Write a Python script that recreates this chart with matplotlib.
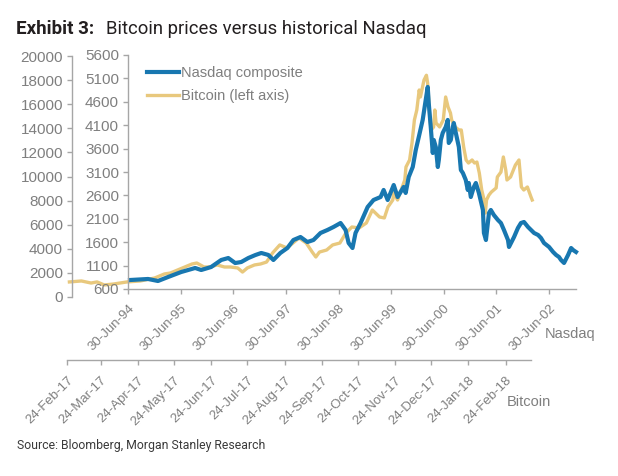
import matplotlib
matplotlib.use('Agg')
import matplotlib.pyplot as plt
import matplotlib.dates as mdates
import pandas as pd

# Nasdaq composite
nasdaq_dates = ['1994-07-14', '1994-11-16', '1995-01-24', '1995-04-04', '1995-07-04',
                '1995-10-09', '1995-11-20', '1996-01-28', '1996-04-07', '1996-05-26',
                '1996-07-13', '1996-08-24', '1996-10-12', '1996-11-30', '1997-01-10',
                '1997-02-28', '1997-04-04', '1997-05-22', '1997-07-10', '1997-08-21',
                '1997-10-09', '1997-11-26', '1998-01-07', '1998-02-25', '1998-04-14',
                '1998-05-26', '1998-07-14', '1998-08-18', '1998-09-08', '1998-10-05',
                '1998-10-26', '1998-11-30', '1999-01-18', '1999-02-28', '1999-04-18',
                '1999-05-09', '1999-06-06', '1999-07-18', '1999-08-14', '1999-09-25',
                '1999-10-09', '1999-10-30', '1999-11-27', '1999-12-18', '2000-01-08',
                '2000-02-04', '2000-02-25', '2000-03-10', '2000-03-17', '2000-03-31',
                '2000-04-14', '2000-04-21', '2000-05-05', '2000-05-19', '2000-05-26',
                '2000-06-09', '2000-06-22', '2000-07-13', '2000-07-27', '2000-08-03',
                '2000-08-17', '2000-08-31', '2000-09-07', '2000-09-21', '2000-10-12',
                '2000-10-26', '2000-11-09', '2000-11-29', '2000-12-13', '2000-12-20',
                '2001-01-03', '2001-01-24', '2001-02-07', '2001-02-28', '2001-03-28',
                '2001-04-04', '2001-04-18', '2001-05-09', '2001-05-22', '2001-06-12',
                '2001-07-10', '2001-07-31', '2001-08-21', '2001-09-18', '2001-09-25',
                '2001-10-09', '2001-10-30', '2001-11-26', '2001-12-17', '2002-01-07',
                '2002-02-04', '2002-02-25', '2002-03-18', '2002-04-15', '2002-05-05',
                '2002-05-26', '2002-06-30', '2002-07-28', '2002-08-18', '2002-09-07',
                '2002-09-21', '2002-10-12', '2002-11-09', '2002-11-30', '2002-12-14',
                '2003-01-03']
nasdaq_values = [792, 814, 771, 856, 963, 1049, 1006, 1070, 1220, 1262,
                 1155, 1177, 1262, 1326, 1370, 1327, 1220, 1369, 1476, 1647,
                 1711, 1604, 1647, 1797, 1861, 1925, 2010, 1861, 1583, 1476,
                 1797, 2010, 2352, 2502, 2566, 2716, 2502, 2822, 2566, 2780,
                 2652, 2993, 3207, 3570, 3848, 4212, 4639, 4917, 4575, 4062,
                 3506, 3784, 3635, 3207, 3357, 3784, 3934, 4062, 4212, 3720,
                 3784, 4062, 4147, 3934, 3635, 3143, 3079, 2929, 2716, 2865,
                 2566, 2780, 2865, 2652, 2288, 1797, 1647, 2224, 2288, 2181,
                 2075, 2010, 1861, 1647, 1498, 1583, 1711, 1904, 2010, 2032,
                 1925, 1861, 1797, 1754, 1690, 1583, 1498, 1391, 1327, 1284,
                 1220, 1156, 1327, 1476, 1433, 1391]

# Bitcoin (left axis)
btc_dates = ['2017-02-26', '2017-03-08', '2017-03-16', '2017-03-21', '2017-03-27',
             '2017-04-04', '2017-04-09', '2017-04-15', '2017-04-26', '2017-05-08',
             '2017-05-16', '2017-05-21', '2017-05-27', '2017-06-02', '2017-06-08',
             '2017-06-12', '2017-06-18', '2017-06-23', '2017-06-29', '2017-07-05',
             '2017-07-10', '2017-07-16', '2017-07-20', '2017-07-24', '2017-07-30',
             '2017-08-04', '2017-08-09', '2017-08-14', '2017-08-20', '2017-08-26',
             '2017-08-31', '2017-09-05', '2017-09-11', '2017-09-16', '2017-09-19',
             '2017-09-22', '2017-09-28', '2017-10-03', '2017-10-09', '2017-10-14',
             '2017-10-19', '2017-10-25', '2017-10-31', '2017-11-05', '2017-11-11',
             '2017-11-15', '2017-11-18', '2017-11-22', '2017-11-23', '2017-11-26',
             '2017-11-28', '2017-11-29', '2017-12-02', '2017-12-03', '2017-12-06',
             '2017-12-08', '2017-12-10', '2017-12-12', '2017-12-13', '2017-12-14',
             '2017-12-15', '2017-12-18', '2017-12-20', '2017-12-21', '2017-12-23',
             '2017-12-24', '2017-12-26', '2017-12-27', '2017-12-28', '2017-12-31',
             '2018-01-03', '2018-01-05', '2018-01-07', '2018-01-09', '2018-01-10',
             '2018-01-13', '2018-01-16', '2018-01-18', '2018-01-20', '2018-01-22',
             '2018-01-24', '2018-01-27', '2018-01-29', '2018-01-31', '2018-02-02',
             '2018-02-04', '2018-02-06', '2018-02-07', '2018-02-08', '2018-02-10',
             '2018-02-12', '2018-02-16', '2018-02-17', '2018-02-20', '2018-02-22',
             '2018-02-24', '2018-02-25', '2018-02-28', '2018-03-04', '2018-03-07',
             '2018-03-09', '2018-03-11', '2018-03-14', '2018-03-17', '2018-03-18']
btc_values = [1250, 1330, 1160, 1250, 1000, 1080, 1160, 1250, 1330, 1580,
              1910, 1990, 2240, 2490, 2740, 2820, 2490, 2490, 2660, 2490,
              2490, 2410, 2070, 2410, 2660, 2740, 2900, 3650, 4320, 4070,
              4480, 4900, 4480, 3730, 3320, 3730, 3900, 4320, 4480, 5310,
              5810, 5730, 6140, 7220, 6640, 6560, 7470, 8050, 8630, 8050,
              8630, 8880, 9710, 10790, 11370, 12780, 14690, 15520, 16350, 17180,
              16600, 18010, 18400, 17760, 14690, 13860, 14110, 15520, 14440, 14110,
              14690, 16600, 15770, 15270, 14690, 14110, 13860, 13860, 12450, 11370,
              11120, 11370, 11120, 11200, 10290, 8880, 8050, 6970, 8050, 8460,
              8710, 9050, 9960, 10370, 11620, 10540, 9710, 9960, 10950, 11370,
              9130, 8880, 9130, 8300, 8050]

nasdaq_ticks = ['1994-06-30', '1995-06-30', '1996-06-30', '1997-06-30', '1998-06-30',
                '1999-06-30', '2000-06-30', '2001-06-30', '2002-06-30']
btc_ticks = ['2017-02-24', '2017-03-24', '2017-04-24', '2017-05-24', '2017-06-24',
             '2017-07-24', '2017-08-24', '2017-09-24', '2017-10-24', '2017-11-24',
             '2017-12-24', '2018-01-24', '2018-02-24']

BLUE = '#1877B0'
GOLD = '#E8C87D'
SPINE = '#A6A6A6'
TXT = '#7F7F7F'
SANS = 'Liberation Sans'

W, H = 618, 476
fig = plt.figure(figsize=(W / 100, H / 100), dpi=100)


def box(x0, y0, x1, y1):
    # pixel box (top-left origin) -> figure fraction
    return [x0 / W, 1 - y1 / H, (x1 - x0) / W, (y1 - y0) / H]


def style_axis(ax):
    for s in ['top', 'right']:
        ax.spines[s].set_visible(False)
    for s in ['left', 'bottom']:
        ax.spines[s].set_color(SPINE)
        ax.spines[s].set_linewidth(1.0)
    ax.tick_params(colors=SPINE, labelcolor=TXT, direction='out', length=3.5, width=1.0)


def rotate_dates(ax):
    for lab in ax.get_xticklabels():
        lab.set_rotation(45)
        lab.set_ha('right')
        lab.set_va('top')
        lab.set_rotation_mode('anchor')
    for lab in ax.get_xticklabels() + ax.get_yticklabels():
        lab.set_family(SANS)


# bitcoin axes (left axis + lower date axis)
ax_b = fig.add_axes(box(67, 56, 531, 297))
style_axis(ax_b)
ax_b.set_xlim(pd.Timestamp('2017-02-24'), pd.Timestamp('2018-03-17'))
ax_b.set_ylim(0, 20000)
ax_b.spines['left'].set_position(('axes', 5 / 464))
ax_b.spines['bottom'].set_position(('outward', 63 * 0.72))
ax_b.set_yticks(range(0, 20001, 2000))
ax_b.set_xticks(pd.to_datetime(btc_ticks))
ax_b.xaxis.set_major_formatter(mdates.DateFormatter('%d-%b-%y'))
ax_b.tick_params(axis='y', labelsize=11, pad=3)
ax_b.tick_params(axis='x', labelsize=9.5, pad=7)
rotate_dates(ax_b)
ax_b.plot(pd.to_datetime(btc_dates), btc_values, color=GOLD, lw=2.4,
          solid_joinstyle='round', clip_on=False)

# nasdaq axes (inner axis)
ax_n = fig.add_axes(box(128, 55, 576, 289))
ax_n.patch.set_visible(False)
style_axis(ax_n)
ax_n.set_xlim(pd.Timestamp('1994-06-30'), pd.Timestamp('2003-01-03'))
ax_n.set_ylim(600, 5600)
ax_n.set_yticks(range(600, 5601, 500))
ax_n.set_xticks(pd.to_datetime(nasdaq_ticks))
ax_n.xaxis.set_major_formatter(mdates.DateFormatter('%d-%b-%y'))
ax_n.tick_params(axis='y', labelsize=11, pad=3)
ax_n.tick_params(axis='x', labelsize=9.5, pad=6)
rotate_dates(ax_n)
ax_n.plot(pd.to_datetime(nasdaq_dates), nasdaq_values, color=BLUE, lw=3.0,
          solid_joinstyle='round', clip_on=False)

# legend
handles = [ax_n.lines[0], ax_b.lines[0]]
fig.legend(handles, ['Nasdaq composite', 'Bitcoin (left axis)'],
           loc='upper left', bbox_to_anchor=(147 / W, 1 - 66 / H),
           frameon=False, borderpad=0, borderaxespad=0,
           handlelength=2.2, handletextpad=0.1, labelspacing=0.65,
           prop={'family': SANS, 'size': 10.5}, labelcolor=TXT)

# axis names
fig.text(545 / W, 1 - 334 / H, 'Nasdaq', family=SANS, size=10.5, color=TXT, va='center')
fig.text(507 / W, 1 - 402 / H, 'Bitcoin', family=SANS, size=10.5, color=TXT, va='center')

# title and source
fig.text(16 / W, 1 - 29 / H, 'Exhibit 3:', family='Roboto', weight='bold',
         size=13.5, color='#231F20', va='center')
fig.text(106 / W, 1 - 29 / H, 'Bitcoin prices versus historical Nasdaq', family='Roboto',
         size=13.3, color='#231F20', va='center')
fig.text(17 / W, 1 - 445 / H, 'Source: Bloomberg, Morgan Stanley Research',
         family='Roboto', size=8.8, color='#3A3A3A', va='center')

fig.savefig('out.png', dpi=100)
